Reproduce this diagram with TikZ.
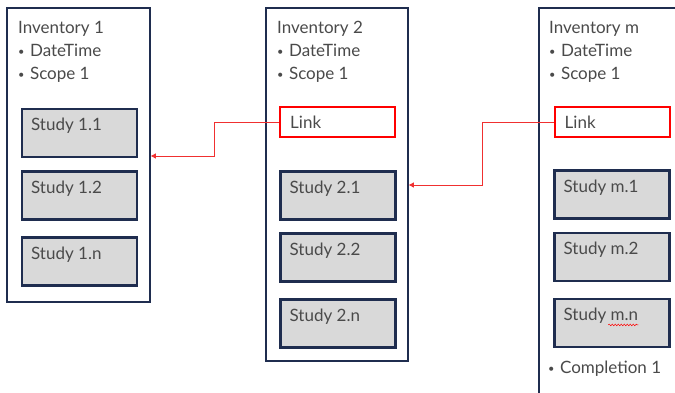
\documentclass[tikz,border=0pt]{standalone}
\usepackage{fontspec}
\setmainfont{Lato}
\usetikzlibrary{arrows.meta,calc,decorations.pathmorphing}
\definecolor{navy}{HTML}{1F2D4F}
\definecolor{studyfill}{HTML}{D9D9D9}
\definecolor{txtgray}{HTML}{4A4A4A}
\definecolor{linkred}{HTML}{FF0000}
\definecolor{arrred}{HTML}{F03030}
\newcommand{\mybul}{\raisebox{0.5pt}{\fontsize{11pt}{11pt}\selectfont•}\hspace{5.5pt}}
\tikzset{
  inv/.style={draw=navy,line width=1.8pt,fill=white,inner sep=0pt},
  study/.style={draw=navy,line width=2.2pt,fill=studyfill,minimum width=115pt,minimum height=48pt,inner sep=0pt},
  linkbox/.style={draw=linkred,line width=2pt,fill=white,minimum width=115pt,minimum height=30pt,inner sep=0pt},
  txt/.style={text=txtgray,font=\fontsize{17pt}{19pt}\selectfont,inner sep=0pt,anchor=base west},
  conn/.style={draw=arrred,line width=0.9pt,-{Triangle[length=5pt,width=5pt]}}
}
\begin{document}
\begin{tikzpicture}[x=1pt,y=-1pt]
\useasboundingbox (0,0) rectangle (675,392);
\clip (0,0) rectangle (675,392);
% Inventory 1
\node[inv,minimum width=143pt,minimum height=294pt] (inv1) at (78.5,155) {};
\node[txt] (inv1t) at (18,33) {Inventory 1};
\node[txt] (inv1d) at (18,56) {\mybul DateTime};
\node[txt] (inv1s) at (18,79) {\mybul Scope 1};
\node[study] (s11) at (79.5,133) {};
\node[study] (s12) at (79.5,195.5) {};
\node[study] (s1n) at (79.5,261.5) {};
\node[txt] (s11t) at ($(s11.north west)+(10,23)$) {Study 1.1};
\node[txt] (s12t) at ($(s12.north west)+(10,23)$) {Study 1.2};
\node[txt] (s1nt) at ($(s1n.north west)+(10,23)$) {Study 1.n};
% Inventory 2
\node[inv,minimum width=142pt,minimum height=353pt] (inv2) at (337,184.5) {};
\node[txt] (inv2t) at (277,33) {Inventory 2};
\node[txt] (inv2d) at (277,56) {\mybul DateTime};
\node[txt] (inv2s) at (277,79) {\mybul Scope 1};
\node[linkbox] (link2) at (337.5,122) {};
\node[txt] (link2t) at ($(link2.west)+(11,6)$) {Link};
\node[study] (s21) at (338,195.5) {};
\node[study] (s22) at (338,257.5) {};
\node[study] (s2n) at (338,323.5) {};
\node[txt] (s21t) at ($(s21.north west)+(10,23)$) {Study 2.1};
\node[txt] (s22t) at ($(s22.north west)+(10,23)$) {Study 2.2};
\node[txt] (s2nt) at ($(s2n.north west)+(10,23)$) {Study 2.n};
% Inventory m
\node[inv,minimum width=150pt,minimum height=400pt] (invm) at (614,208) {};
\node[txt] (invmt) at (549,33) {Inventory m};
\node[txt] (invmd) at (549,56) {\mybul DateTime};
\node[txt] (invms) at (549,79) {\mybul Scope 1};
\node[linkbox] (linkm) at (612,122) {};
\node[txt] (linkmt) at ($(linkm.west)+(11,6)$) {Link};
\node[study] (sm1) at (612,194.5) {};
\node[study] (sm2) at (612,257) {};
\node[study] (smn) at (612,323) {};
\node[txt] (sm1t) at ($(sm1.north west)+(10,23)$) {Study m.1};
\node[txt] (sm2t) at ($(sm2.north west)+(10,23)$) {Study m.2};
\node[txt] (smnt) at ($(smn.north west)+(10,23)$) {Study m.n};
\node[txt] (invmc) at (548,373) {\mybul Completion 1};
\coordinate (w1) at ($(smnt.base east)+(-30,4)$);
\coordinate (w2) at ($(smnt.base east)+(0,4)$);
\draw[red,line width=0.5pt,decorate,decoration={snake,amplitude=0.8pt,segment length=3pt}] (w1) -- (w2);
% connectors
\coordinate (b1) at (214,156);
\draw[conn] (link2.west) -| (b1) -- (b1 -| inv1.east);
\coordinate (b2) at (482,185);
\draw[conn] (linkm.west) -| (b2) -- (b2 -| inv2.east);
\end{tikzpicture}
\end{document}
